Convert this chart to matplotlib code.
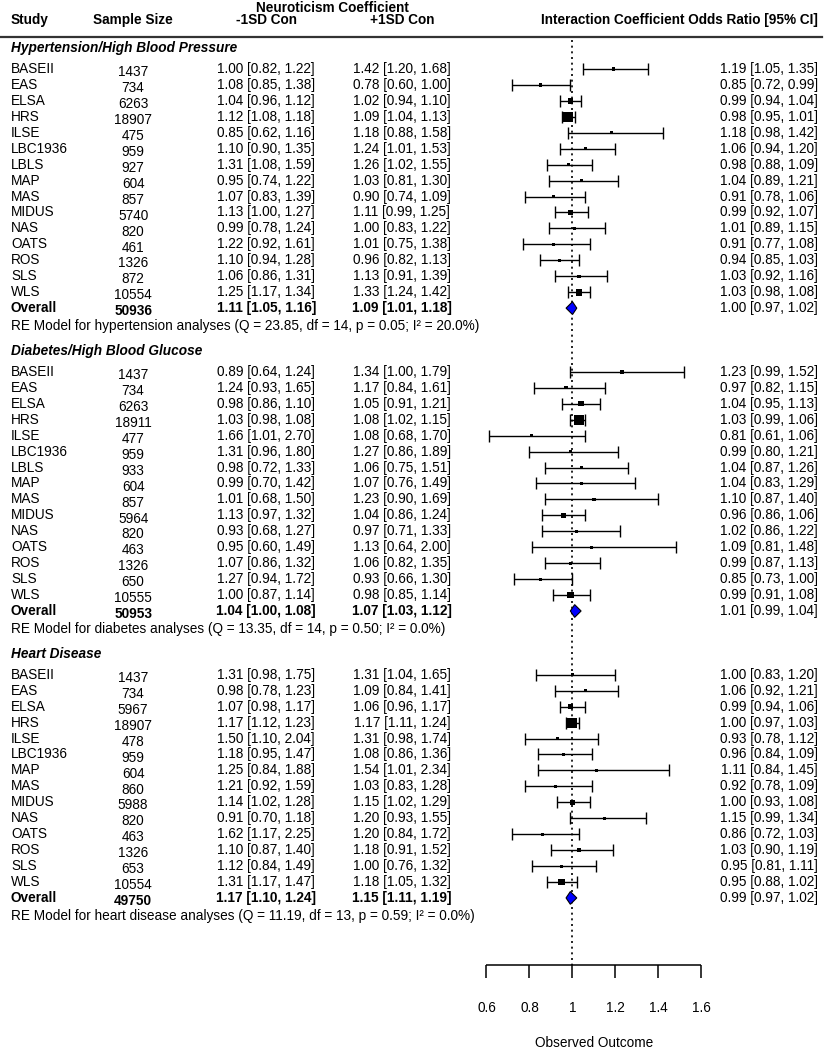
import matplotlib.pyplot as plt
from matplotlib.patches import Polygon
from matplotlib.transforms import blended_transform_factory

plt.rcParams['font.family'] = ['Liberation Sans', 'DejaVu Sans']

# study lists
studies = ["BASEII", "EAS", "ELSA", "HRS", "ILSE", "LBC1936", "LBLS", "MAP", "MAS",
           "MIDUS", "NAS", "OATS", "ROS", "SLS", "WLS"]
heart_studies = ["BASEII", "EAS", "ELSA", "HRS", "ILSE", "LBC1936", "MAP", "MAS",
                 "MIDUS", "NAS", "OATS", "ROS", "SLS", "WLS"]

# hypertension
hyp_n = [1437, 734, 6263, 18907, 475, 959, 927, 604, 857, 5740, 820, 461, 1326, 872, 10554]
hyp_neg = [(1.00, 0.82, 1.22), (1.08, 0.85, 1.38), (1.04, 0.96, 1.12), (1.12, 1.08, 1.18),
           (0.85, 0.62, 1.16), (1.10, 0.90, 1.35), (1.31, 1.08, 1.59), (0.95, 0.74, 1.22),
           (1.07, 0.83, 1.39), (1.13, 1.00, 1.27), (0.99, 0.78, 1.24), (1.22, 0.92, 1.61),
           (1.10, 0.94, 1.28), (1.06, 0.86, 1.31), (1.25, 1.17, 1.34)]
hyp_pos = [(1.42, 1.20, 1.68), (0.78, 0.60, 1.00), (1.02, 0.94, 1.10), (1.09, 1.04, 1.13),
           (1.18, 0.88, 1.58), (1.24, 1.01, 1.53), (1.26, 1.02, 1.55), (1.03, 0.81, 1.30),
           (0.90, 0.74, 1.09), (1.11, 0.99, 1.25), (1.00, 0.83, 1.22), (1.01, 0.75, 1.38),
           (0.96, 0.82, 1.13), (1.13, 0.91, 1.39), (1.33, 1.24, 1.42)]
hyp_or = [(1.19, 1.05, 1.35), (0.85, 0.72, 0.99), (0.99, 0.94, 1.04), (0.98, 0.95, 1.01),
          (1.18, 0.98, 1.42), (1.06, 0.94, 1.20), (0.98, 0.88, 1.09), (1.04, 0.89, 1.21),
          (0.91, 0.78, 1.06), (0.99, 0.92, 1.07), (1.01, 0.89, 1.15), (0.91, 0.77, 1.08),
          (0.94, 0.85, 1.03), (1.03, 0.92, 1.16), (1.03, 0.98, 1.08)]
hyp_overall = (50936, (1.11, 1.05, 1.16), (1.09, 1.01, 1.18), (1.00, 0.97, 1.02))

# diabetes
dia_n = [1437, 734, 6263, 18911, 477, 959, 933, 604, 857, 5964, 820, 463, 1326, 650, 10555]
dia_neg = [(0.89, 0.64, 1.24), (1.24, 0.93, 1.65), (0.98, 0.86, 1.10), (1.03, 0.98, 1.08),
           (1.66, 1.01, 2.70), (1.31, 0.96, 1.80), (0.98, 0.72, 1.33), (0.99, 0.70, 1.42),
           (1.01, 0.68, 1.50), (1.13, 0.97, 1.32), (0.93, 0.68, 1.27), (0.95, 0.60, 1.49),
           (1.07, 0.86, 1.32), (1.27, 0.94, 1.72), (1.00, 0.87, 1.14)]
dia_pos = [(1.34, 1.00, 1.79), (1.17, 0.84, 1.61), (1.05, 0.91, 1.21), (1.08, 1.02, 1.15),
           (1.08, 0.68, 1.70), (1.27, 0.86, 1.89), (1.06, 0.75, 1.51), (1.07, 0.76, 1.49),
           (1.23, 0.90, 1.69), (1.04, 0.86, 1.24), (0.97, 0.71, 1.33), (1.13, 0.64, 2.00),
           (1.06, 0.82, 1.35), (0.93, 0.66, 1.30), (0.98, 0.85, 1.14)]
dia_or = [(1.23, 0.99, 1.52), (0.97, 0.82, 1.15), (1.04, 0.95, 1.13), (1.03, 0.99, 1.06),
          (0.81, 0.61, 1.06), (0.99, 0.80, 1.21), (1.04, 0.87, 1.26), (1.04, 0.83, 1.29),
          (1.10, 0.87, 1.40), (0.96, 0.86, 1.06), (1.02, 0.86, 1.22), (1.09, 0.81, 1.48),
          (0.99, 0.87, 1.13), (0.85, 0.73, 1.00), (0.99, 0.91, 1.08)]
dia_overall = (50953, (1.04, 1.00, 1.08), (1.07, 1.03, 1.12), (1.01, 0.99, 1.04))

# heart disease
hrt_n = [1437, 734, 5967, 18907, 478, 959, 604, 860, 5988, 820, 463, 1326, 653, 10554]
hrt_neg = [(1.31, 0.98, 1.75), (0.98, 0.78, 1.23), (1.07, 0.98, 1.17), (1.17, 1.12, 1.23),
           (1.50, 1.10, 2.04), (1.18, 0.95, 1.47), (1.25, 0.84, 1.88), (1.21, 0.92, 1.59),
           (1.14, 1.02, 1.28), (0.91, 0.70, 1.18), (1.62, 1.17, 2.25), (1.10, 0.87, 1.40),
           (1.12, 0.84, 1.49), (1.31, 1.17, 1.47)]
hrt_pos = [(1.31, 1.04, 1.65), (1.09, 0.84, 1.41), (1.06, 0.96, 1.17), (1.17, 1.11, 1.24),
           (1.31, 0.98, 1.74), (1.08, 0.86, 1.36), (1.54, 1.01, 2.34), (1.03, 0.83, 1.28),
           (1.15, 1.02, 1.29), (1.20, 0.93, 1.55), (1.20, 0.84, 1.72), (1.18, 0.91, 1.52),
           (1.00, 0.76, 1.32), (1.18, 1.05, 1.32)]
hrt_or = [(1.00, 0.83, 1.20), (1.06, 0.92, 1.21), (0.99, 0.94, 1.06), (1.00, 0.97, 1.03),
          (0.93, 0.78, 1.12), (0.96, 0.84, 1.09), (1.11, 0.84, 1.45), (0.92, 0.78, 1.09),
          (1.00, 0.93, 1.08), (1.15, 0.99, 1.34), (0.86, 0.72, 1.03), (1.03, 0.90, 1.19),
          (0.95, 0.81, 1.11), (0.95, 0.88, 1.02)]
hrt_overall = (49750, (1.17, 1.10, 1.24), (1.15, 1.11, 1.19), (0.99, 0.97, 1.02))

sections = [
    ("Hypertension/High Blood Pressure", studies, hyp_n, hyp_neg, hyp_pos, hyp_or, hyp_overall,
     "RE Model for hypertension analyses (Q = 23.85, df = 14, p = 0.05; I\u00b2 = 20.0%)"),
    ("Diabetes/High Blood Glucose", studies, dia_n, dia_neg, dia_pos, dia_or, dia_overall,
     "RE Model for diabetes analyses (Q = 13.35, df = 14, p = 0.50; I\u00b2 = 0.0%)"),
    ("Heart Disease", heart_studies, hrt_n, hrt_neg, hrt_pos, hrt_or, hrt_overall,
     "RE Model for heart disease analyses (Q = 11.19, df = 13, p = 0.59; I\u00b2 = 0.0%)"),
]

xticks = [0.6, 0.8, 1.0, 1.2, 1.4, 1.6]
xtick_labels = ["0.6", "0.8", "1", "1.2", "1.4", "1.6"]


def fmt(t):
    return "%.2f [%.2f, %.2f]" % t


fig = plt.figure(figsize=(8.32, 10.5), dpi=100)
ax = fig.add_axes([0, 0, 1, 1])
ax.axis('off')
ax.set_xlim(-1.6628, 2.2070)
ax.set_ylim(61.54, -4.33)
tr = blended_transform_factory(ax.transAxes, ax.transData)

FS = 9.8
X_STUDY, X_N, X_NEG, X_POS, X_OR = 0.0132, 0.160, 0.320, 0.483, 0.983

# header
ax.text(0.400, -3.85, "Neuroticism Coefficient", transform=tr, ha='center', va='center',
        fontsize=FS, fontweight='bold')
for x, s, ha in [(X_STUDY, "Study", 'left'), (X_N, "Sample Size", 'center'),
                 (X_NEG, "-1SD Con", 'center'), (X_POS, "+1SD Con", 'center'),
                 (X_OR, "Interaction Coefficient Odds Ratio [95% CI]", 'right')]:
    ax.text(x, -3.05, s, transform=tr, ha=ha, va='center', fontsize=FS, fontweight='bold')
ax.plot([0, 0.988], [-1.98, -1.98], transform=tr, color='#333333', lw=1.6)

n_min = min(hyp_n + dia_n + hrt_n)
n_max = max(hyp_n + dia_n + hrt_n)

start = 0
for title, names, ns, neg, pos, ors, overall, re_text in sections:
    ax.text(X_STUDY, start - 1.3, title, transform=tr, ha='left', va='center',
            fontsize=FS, fontweight='bold', style='italic')
    rows = [start + i for i in range(len(names))]
    for r, name, n, a, b, c in zip(rows, names, ns, neg, pos, ors):
        ax.text(X_STUDY, r, name, transform=tr, ha='left', va='center', fontsize=FS)
        ax.text(X_N, r + 0.2, str(n), transform=tr, ha='center', va='center', fontsize=FS)
        ax.text(X_NEG, r, fmt(a), transform=tr, ha='center', va='center', fontsize=FS)
        ax.text(X_POS, r, fmt(b), transform=tr, ha='center', va='center', fontsize=FS)
        ax.text(X_OR, r, fmt(c), transform=tr, ha='right', va='center', fontsize=FS)

    est = [c[0] for c in ors]
    lo = [c[1] for c in ors]
    hi = [c[2] for c in ors]
    ax.errorbar(est, rows, xerr=[[e - l for e, l in zip(est, lo)], [h - e for e, h in zip(est, hi)]],
                fmt='none', ecolor='black', elinewidth=1.0, capsize=4.5, capthick=1.0)
    side_px = [3 + 7 * (n - n_min) / (n_max - n_min) for n in ns]
    ax.scatter(est, rows, s=[(p * 0.72) ** 2 for p in side_px], marker='s', color='black',
               linewidths=0, zorder=3)

    # overall row
    r = start + len(names)
    tot, a, b, c = overall
    ax.text(X_STUDY, r, "Overall", transform=tr, ha='left', va='center', fontsize=FS, fontweight='bold')
    ax.text(X_N, r + 0.2, str(tot), transform=tr, ha='center', va='center', fontsize=FS, fontweight='bold')
    ax.text(X_NEG, r, fmt(a), transform=tr, ha='center', va='center', fontsize=FS, fontweight='bold')
    ax.text(X_POS, r, fmt(b), transform=tr, ha='center', va='center', fontsize=FS, fontweight='bold')
    ax.text(X_OR, r, fmt(c), transform=tr, ha='right', va='center', fontsize=FS)
    ax.add_patch(Polygon([(c[1], r), (c[0], r - 0.4), (c[2], r), (c[0], r + 0.4)],
                         closed=True, facecolor='#0000ff', edgecolor='black', lw=0.8, zorder=4))
    ax.text(X_STUDY, r + 1.15, re_text, transform=tr, ha='left', va='center', fontsize=FS)
    start = r + 4

# reference line and x axis
axis_y = 56.2
ax.vlines(1.0, -1.82, axis_y, colors='black', linestyles=(0, (1.2, 2.2)), lw=1.2)
ax.hlines(axis_y, xticks[0], xticks[-1], colors='black', lw=1.1)
ax.vlines(xticks, axis_y, axis_y + 0.83, colors='black', lw=1.1)
for t, lab in zip(xticks, xtick_labels):
    ax.text(t, 58.9, lab, ha='center', va='center', fontsize=FS)
ax.text(1.1, 61.1, "Observed Outcome", ha='center', va='center', fontsize=FS)

fig.savefig("out.png", dpi=100)
